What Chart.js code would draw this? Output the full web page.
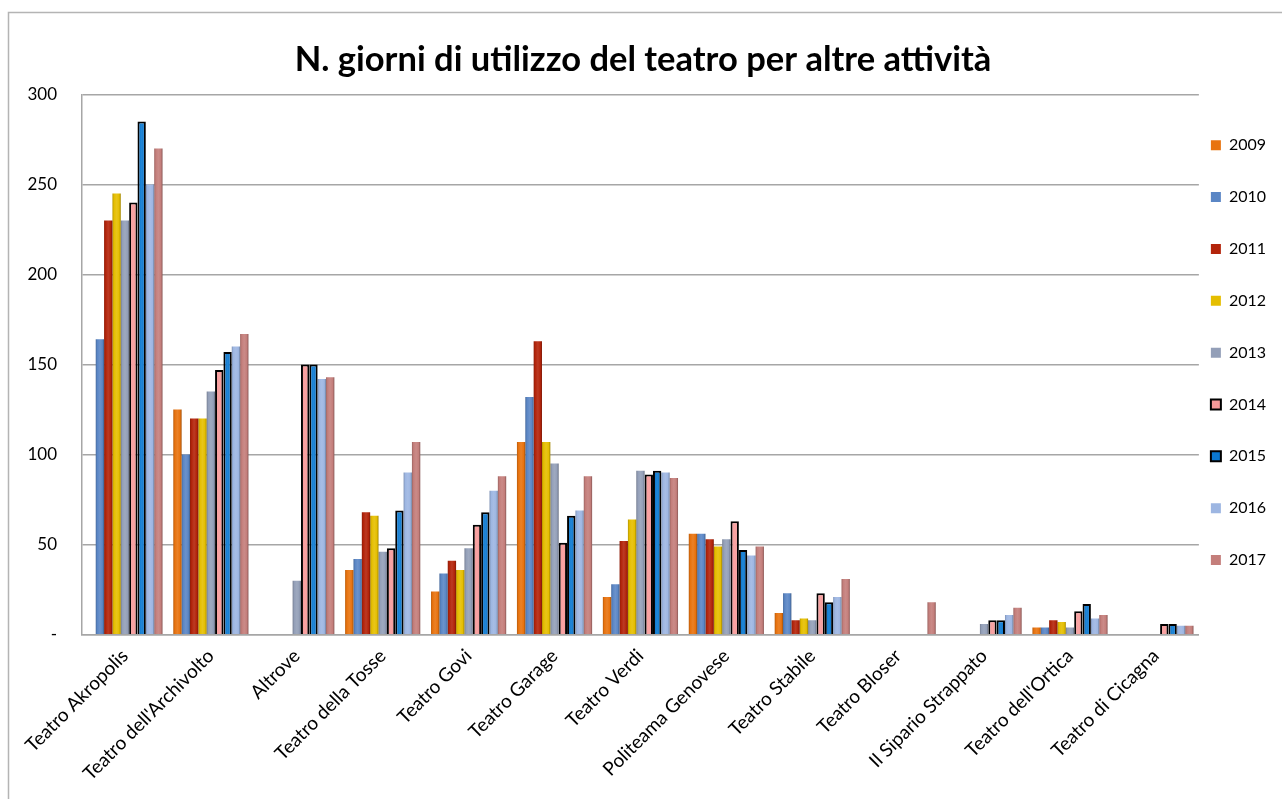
<!DOCTYPE html>
<html>
<head>
<meta charset="utf-8">
<script src="https://cdn.jsdelivr.net/npm/chart.js@4"></script>
<style>
  html, body { margin: 0; padding: 0; background: #fff; }
  #wrap { width: 1282px; height: 799px; position: relative; }
</style>
</head>
<body>
<div id="wrap"><canvas id="c" width="1282" height="799"></canvas></div>
<script>
const categories = ["Teatro Akropolis", "Teatro dell'Archivolto", "Altrove", "Teatro della Tosse", "Teatro Govi", "Teatro Garage", "Teatro Verdi", "Politeama Genovese", "Teatro Stabile", "Teatro Bloser", "Il Sipario Strappato", "Teatro dell'Ortica", "Teatro di Cicagna"];
const years = ["2009", "2010", "2011", "2012", "2013", "2014", "2015", "2016", "2017"];
const v2009 = [null, 125, null, 36, 24, 107, 21, 56, 12, null, null, 4, null];
const v2010 = [164, 100, null, 42, 34, 132, 28, 56, 23, null, null, 4, null];
const v2011 = [230, 120, null, 68, 41, 163, 52, 53, 8, null, null, 8, null];
const v2012 = [245, 120, null, 66, 36, 107, 64, 49, 9, null, null, 7, null];
const v2013 = [230, 135, 30, 46, 48, 95, 91, 53, 8, null, 6, 4, null];
const v2014 = [240, 147, 150, 48, 61, 51, 89, 63, 23, null, 8, 13, 6];
const v2015 = [285, 157, 150, 69, 68, 66, 91, 47, 18, null, 8, 17, 6];
const v2016 = [250, 160, 142, 90, 80, 69, 90, 44, 21, null, 11, 9, 5];
const v2017 = [270, 167, 143, 107, 88, 88, 87, 49, 31, 18, 15, 11, 5];
const yTicks = [0, 50, 100, 150, 200, 250, 300];
const chartTitle = "N. giorni di utilizzo del teatro per altre attività";

const seriesValues = [v2009, v2010, v2011, v2012, v2013, v2014, v2015, v2016, v2017];
const fills = ['#E8730F', '#5A86C5', '#B3240B', '#E5BE00', '#939FB8', '#F79A9A', '#0B78D0', '#9DB6E2', '#C47E7B'];
const outlined = [false, false, false, false, false, true, true, false, false];
const CAT_PCT = 0.875;

function shade(hex, f) {
  const n = parseInt(hex.slice(1), 16);
  let r = (n >> 16) & 255, g = (n >> 8) & 255, b = n & 255;
  if (f < 1) { r *= f; g *= f; b *= f; }
  else { r += (255 - r) * (f - 1); g += (255 - g) * (f - 1); b += (255 - b) * (f - 1); }
  return `rgb(${Math.round(r)},${Math.round(g)},${Math.round(b)})`;
}

function barFill(i) {
  const base = fills[i];
  return (ctx) => {
    const chart = ctx.chart;
    const xs = chart.scales.x;
    if (!xs || ctx.type !== 'data' || !isFinite(xs.width) || xs.width <= 0) return base;
    const catW = xs.width / categories.length;
    const groupW = catW * CAT_PCT;
    const bw = groupW / years.length;
    const cx = xs.getPixelForValue(ctx.dataIndex);
    const left = cx - groupW / 2 + ctx.datasetIndex * bw;
    if (!isFinite(left)) return base;
    const g = chart.ctx.createLinearGradient(left, 0, left + bw, 0);
    g.addColorStop(0, shade(base, 0.8));
    g.addColorStop(0.2, base);
    g.addColorStop(0.5, shade(base, 1.1));
    g.addColorStop(0.8, base);
    g.addColorStop(1, shade(base, 0.7));
    return g;
  };
}

const datasets = years.map((y, i) => ({
  label: y,
  data: seriesValues[i],
  backgroundColor: barFill(i),
  borderColor: outlined[i] ? '#000000' : fills[i],
  borderWidth: outlined[i] ? 2 : 0,
  categoryPercentage: CAT_PCT,
  barPercentage: 1.0
}));

const outerBorder = {
  id: 'outerBorder',
  beforeDraw(chart) {
    const ctx = chart.ctx;
    ctx.save();
    ctx.fillStyle = '#ffffff';
    ctx.fillRect(0, 0, chart.width, chart.height);
    ctx.strokeStyle = '#B4B4B4';
    ctx.lineWidth = 1.5;
    ctx.strokeRect(8.5, 12.5, 1400, 900);
    ctx.restore();
  }
};

new Chart(document.getElementById('c'), {
  type: 'bar',
  data: { labels: categories, datasets },
  plugins: [outerBorder],
  options: {
    responsive: false,
    animation: false,
    layout: { padding: { top: 12, left: 10, right: 6, bottom: 4 } },
    plugins: {
      title: {
        display: true,
        text: chartTitle,
        color: '#000',
        font: { family: 'Lato', size: 34.5, weight: 'bold' },
        padding: { top: 27, bottom: 14 }
      },
      legend: {
        position: 'right',
        align: 'center',
        fullSize: false,
        labels: {
          boxWidth: 10,
          boxHeight: 10,
          padding: 12,
          color: '#000',
          font: { family: 'Lato', size: 16, lineHeight: 2.49 },
          generateLabels(chart) {
            const items = Chart.defaults.plugins.legend.labels.generateLabels(chart);
            items.forEach((it, i) => { it.text = [it.text]; it.fillStyle = fills[i]; });
            return items;
          }
        }
      },
      tooltip: { enabled: false }
    },
    scales: {
      x: {
        grid: { display: false, drawTicks: false },
        border: { display: true, color: '#A6A6A6', width: 1.5 },
        ticks: {
          color: '#000',
          font: { family: 'Lato', size: 19 },
          minRotation: 45,
          maxRotation: 45,
          padding: 10,
          autoSkip: false
        }
      },
      y: {
        min: 0,
        max: 300,
        afterBuildTicks(scale) { scale.ticks = yTicks.map(v => ({ value: v })); },
        afterFit(scale) { scale.width = 72; },
        grid: { color: '#A6A6A6', lineWidth: 1.5, drawTicks: false },
        border: { display: true, color: '#A6A6A6', width: 1.5 },
        ticks: {
          color: '#000',
          font: { family: 'Lato', size: 17 },
          padding: 25,
          callback: (v) => v === 0 ? '-' : String(v)
        }
      }
    }
  }
});
</script>
</body>
</html>
